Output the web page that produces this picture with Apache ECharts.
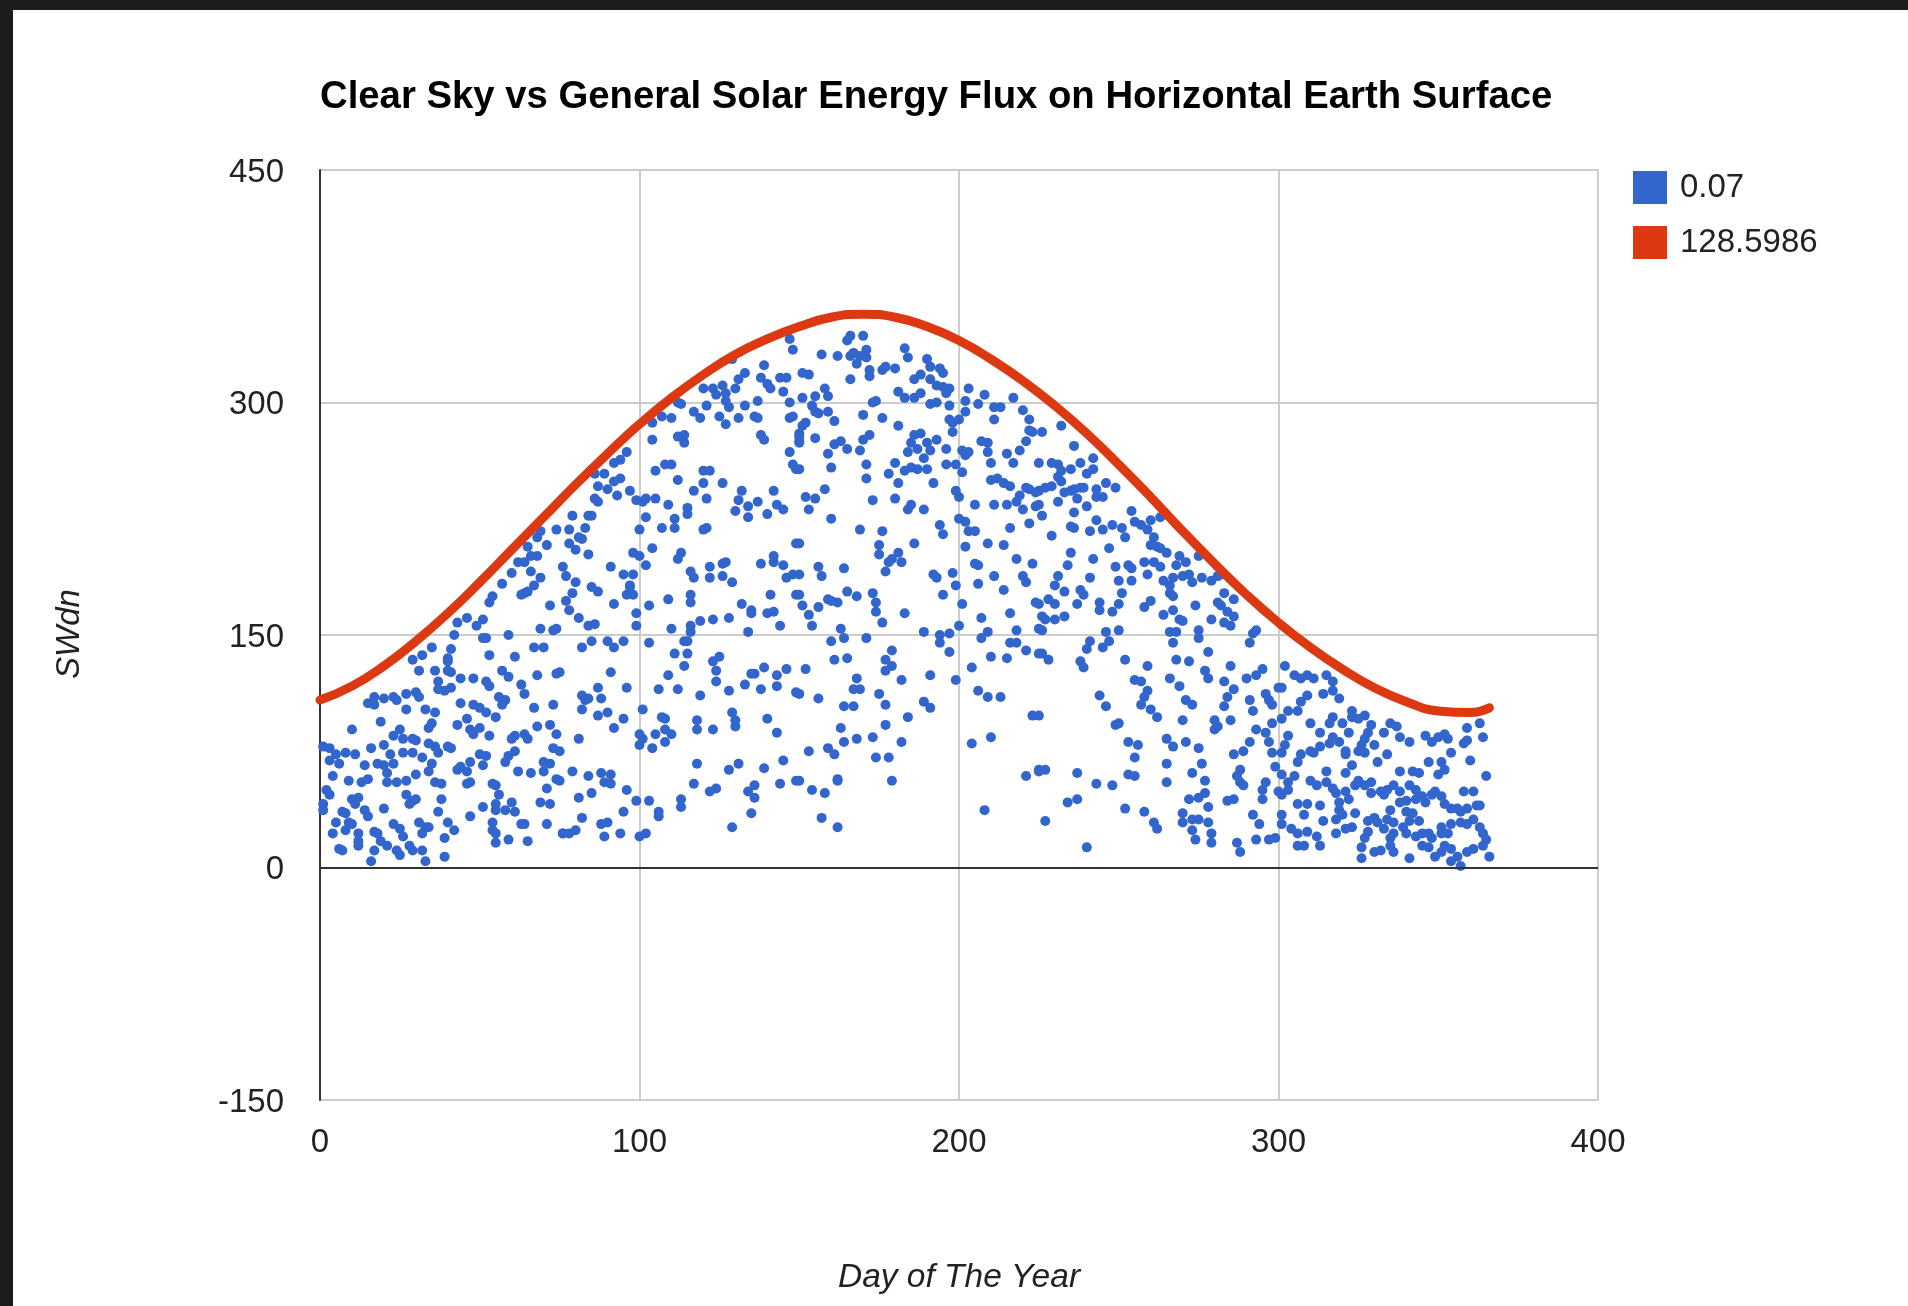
<!DOCTYPE html>
<html>
<head>
<meta charset="utf-8">
<title>Clear Sky vs General Solar Energy Flux</title>
<script src="https://cdn.jsdelivr.net/npm/echarts@6/dist/echarts.min.js"></script>
<style>
  html, body { margin: 0; padding: 0; background: #1c1c1e; }
  #chart { position: absolute; left: 13px; top: 10px; width: 1895px; height: 1296px; background: #fff; }
</style>
</head>
<body>
<div id="chart"></div>
<script>
var FONT = '"Liberation Sans", Arial, Helvetica, sans-serif';

// axis ticks
var xTicks = [0, 100, 200, 300, 400];
var yTicks = [-150, 0, 150, 300, 450];

// clear sky curve (red)
var clearDay  = [0, 10, 20, 30, 40, 50, 60, 70, 80, 90, 100, 110, 120, 130, 140, 150, 160, 170, 180, 190, 200, 210, 220, 230, 240, 250, 260, 270, 280, 290, 300, 310, 320, 330, 340, 350, 360, 366];
var clearFlux = [108, 117, 130, 146, 164, 184, 205, 226, 247, 267, 286, 303, 318, 331, 341, 349, 355, 357, 355, 349, 340, 328, 314, 298, 280, 260, 239, 217, 196, 176, 158, 142, 128, 116, 107, 101, 100, 103];

// measured SWdn points (blue), [day, value]
var swdnPoints = [
[74,218],[69,217],[68,213],[71,208],[65,207],[66,201],[68,201],[62,197],[64,197],[60,190],[66,191],[69,187],[57,183],[67,182],[65,178],[63,176],[64,177],[72,169],[54,175],[53,171],[69,154],[73,153],[74,154],[43,158],[46,161],[49,156],[51,160],[51,148],[52,148],[59,150],[42,150],[67,142],[70,142],[35,142],[32,137],[29,134],[41,141],[40,135],[40,133],[53,137],[61,136],[31,127],[36,127],[40,127],[41,126],[37,120],[37,115],[39,114],[41,116],[44,122],[48,122],[52,120],[53,117],[57,127],[59,123],[63,118],[64,112],[68,124],[74,125],[15,106],[17,110],[20,109],[17,105],[23,110],[24,108],[27,112],[30,113],[31,110],[27,102],[33,102],[36,100],[44,106],[48,105],[50,103],[52,100],[56,110],[57,105],[58,108],[55,97],[67,103],[73,105],[10,89],[19,94],[35,93],[34,90],[43,92],[46,96],[47,89],[48,86],[50,90],[53,85],[60,83],[61,85],[64,86],[65,83],[68,91],[72,92],[74,86],[1,78],[3,77],[5,73],[8,74],[11,73],[16,77],[20,79],[23,85],[25,89],[26,83],[29,83],[30,82],[34,80],[36,78],[37,74],[40,78],[41,77],[22,73],[26,74],[29,74],[32,71],[3,69],[6,67],[14,66],[18,67],[20,66],[23,67],[35,67],[34,62],[43,63],[44,65],[46,62],[47,68],[50,73],[52,72],[51,66],[59,72],[58,68],[61,75],[62,62],[66,61],[70,68],[72,67],[70,62],[73,77],[74,57],[4,59],[9,56],[13,55],[15,57],[21,61],[21,55],[24,55],[27,56],[30,60],[36,55],[38,54],[46,54],[47,55],[54,54],[55,53],[71,51],[2,50],[3,47],[10,44],[12,45],[11,41],[1,41],[1,37],[27,47],[29,43],[30,44],[28,41],[38,44],[56,47],[55,41],[58,37],[60,42],[61,36],[63,28],[69,42],[72,41],[7,36],[8,35],[14,37],[15,33],[20,38],[37,36],[51,39],[55,37],[5,29],[4,22],[9,29],[10,28],[8,24],[12,22],[12,17],[12,14],[17,23],[18,22],[19,17],[21,14],[23,28],[25,25],[26,20],[31,29],[33,26],[34,26],[32,22],[39,19],[40,29],[42,24],[54,29],[54,24],[55,22],[55,16],[59,18],[64,28],[65,17],[71,28],[76,22],[6,12],[7,11],[17,11],[24,11],[25,8],[28,14],[29,11],[32,11],[39,7],[47,33],[16,4],[33,4],
[147,341],[148,334],[139,324],[129,328],[133,319],[131,315],[130,309],[138,316],[140,312],[141,309],[144,316],[146,316],[145,307],[147,300],[148,291],[147,290],[150,280],[150,275],[147,268],[148,260],[149,257],[137,301],[136,291],[137,290],[138,279],[139,276],[133,298],[131,290],[128,297],[127,286],[125,291],[120,309],[123,309],[124,305],[126,311],[127,306],[127,301],[121,298],[117,294],[119,290],[112,300],[113,299],[110,290],[107,291],[104,287],[104,276],[112,278],[114,279],[114,274],[96,268],[94,263],[92,261],[89,254],[86,254],[87,246],[90,244],[92,249],[94,251],[93,240],[86,238],[87,236],[97,243],[99,237],[101,236],[102,238],[105,238],[109,234],[105,256],[108,260],[110,260],[112,250],[117,243],[120,248],[121,238],[120,256],[122,256],[126,248],[132,243],[131,237],[134,233],[137,236],[130,230],[134,226],[142,243],[143,234],[145,231],[140,228],[115,232],[115,228],[111,225],[111,219],[107,219],[102,226],[100,218],[104,206],[120,218],[121,219],[149,209],[79,227],[78,218],[83,219],[84,227],[85,227],[81,213],[82,212],[80,205],[84,202],[78,209],[76,194],[77,188],[80,184],[91,194],[95,189],[98,189],[98,203],[100,201],[102,195],[97,181],[97,182],[96,176],[98,176],[85,181],[87,178],[79,177],[77,172],[78,166],[81,161],[92,170],[99,164],[99,156],[84,156],[86,157],[103,169],[109,173],[113,203],[112,199],[116,191],[117,187],[122,194],[122,187],[126,196],[127,197],[126,188],[129,184],[116,176],[116,171],[119,159],[116,156],[116,152],[123,160],[128,161],[132,170],[135,166],[135,164],[140,164],[142,165],[144,156],[138,196],[142,201],[142,197],[145,195],[146,187],[148,189],[141,176],[149,176],[134,152],[110,154],[115,146],[114,146],[82,142],[85,146],[90,146],[92,142],[95,146],[103,145],[75,126],[82,111],[84,109],[83,108],[87,116],[88,109],[91,126],[96,116],[82,102],[87,98],[90,100],[92,90],[95,96],[81,83],[101,102],[107,97],[108,96],[108,89],[105,86],[100,86],[101,83],[100,79],[104,77],[108,81],[110,86],[106,115],[112,115],[109,124],[111,138],[114,130],[115,138],[119,111],[123,133],[125,136],[124,127],[124,120],[128,114],[133,118],[135,125],[136,125],[139,129],[138,115],[143,124],[143,117],[146,128],[149,113],[118,95],[118,89],[123,89],[129,100],[130,95],[130,91],[140,96],[143,87],[75,75],[79,62],[75,56],[84,59],[88,61],[91,60],[89,55],[91,54],[85,48],[81,45],[96,50],[99,43],[103,43],[106,36],[106,33],[95,36],[113,44],[113,39],[117,54],[118,67],[122,49],[124,51],[128,63],[131,67],[134,49],[136,53],[136,45],[139,64],[145,69],[144,54],[149,56],[135,35],[129,26],[76,22],[78,22],[80,24],[82,32],[88,28],[90,29],[89,20],[94,22],[100,20],[102,22],
[166,343],[170,343],[165,340],[167,332],[171,334],[166,330],[169,330],[171,329],[168,325],[157,331],[162,330],[151,319],[153,318],[166,315],[172,321],[172,317],[176,321],[177,323],[180,322],[183,335],[184,329],[190,328],[191,323],[194,322],[195,319],[188,318],[186,315],[181,307],[183,303],[186,303],[188,306],[191,315],[193,311],[195,310],[197,309],[196,306],[197,298],[191,299],[193,300],[203,309],[208,305],[202,301],[206,299],[202,294],[200,289],[198,287],[197,289],[198,281],[211,297],[213,297],[211,289],[217,303],[220,295],[222,289],[223,281],[173,300],[174,301],[170,292],[176,290],[181,285],[158,309],[155,304],[159,304],[151,303],[154,298],[155,294],[159,294],[156,293],[152,287],[151,285],[161,288],[150,278],[155,277],[150,274],[161,273],[163,275],[165,270],[169,269],[170,276],[172,279],[159,267],[160,258],[150,257],[186,279],[188,280],[185,274],[184,268],[187,270],[190,274],[189,264],[191,269],[193,276],[196,270],[196,260],[199,260],[180,261],[183,256],[185,258],[187,257],[190,257],[178,254],[181,248],[192,248],[171,260],[171,251],[158,244],[152,239],[155,238],[153,231],[160,225],[173,237],[180,238],[185,234],[184,231],[189,231],[169,218],[176,217],[175,208],[175,202],[181,203],[178,197],[179,199],[182,197],[177,191],[186,209],[194,221],[195,215],[201,269],[202,266],[203,268],[201,255],[199,243],[200,239],[200,225],[202,223],[203,217],[205,217],[202,207],[205,196],[206,195],[205,234],[207,275],[209,274],[209,268],[210,261],[210,250],[212,251],[214,248],[216,246],[215,267],[217,261],[219,269],[221,275],[222,282],[215,234],[218,236],[219,240],[221,245],[222,244],[224,242],[224,233],[220,231],[222,222],[211,234],[209,209],[214,208],[216,219],[218,199],[220,188],[221,184],[223,196],[224,171],[211,188],[206,183],[214,179],[216,164],[207,161],[209,152],[207,148],[218,153],[218,145],[216,145],[221,140],[225,138],[210,136],[215,135],[204,129],[206,114],[209,110],[213,110],[223,98],[204,80],[210,84],[221,59],[225,62],[208,37],[192,189],[193,187],[195,176],[198,190],[199,182],[201,170],[200,156],[197,151],[194,150],[194,145],[197,139],[189,152],[191,124],[189,107],[191,103],[199,121],[182,121],[184,97],[179,140],[177,134],[179,130],[177,127],[168,122],[167,115],[169,115],[164,104],[167,104],[175,112],[177,105],[177,92],[163,90],[164,81],[168,83],[173,84],[182,81],[174,71],[178,71],[159,77],[161,73],[153,75],[162,57],[162,56],[154,50],[158,48],[179,56],[157,32],[162,26],[163,154],[164,148],[160,146],[171,148],[161,134],[165,135],[152,128],[150,112],[156,109],[165,178],[168,175],[173,177],[174,171],[174,165],[176,158],[183,164],[162,171],[159,173],[156,168],[153,163],[154,156],[150,176],[151,169],[156,194],[157,188],[164,193],[160,172],[150,189],[150,209],[150,56],
[232,285],[226,281],[236,272],[225,261],[229,261],[231,260],[232,256],[235,257],[238,261],[242,264],[242,257],[240,254],[231,252],[232,249],[229,246],[227,245],[225,243],[233,242],[235,243],[236,244],[238,245],[239,245],[243,244],[237,238],[243,239],[245,239],[246,248],[249,245],[225,234],[231,236],[240,233],[226,227],[236,229],[243,224],[241,217],[245,218],[248,221],[251,219],[252,213],[235,220],[236,219],[229,214],[254,230],[255,223],[257,221],[260,224],[263,226],[259,218],[261,213],[260,208],[262,207],[263,206],[265,203],[247,206],[242,199],[235,203],[234,195],[249,194],[253,195],[254,193],[250,185],[254,185],[258,197],[261,197],[263,194],[264,185],[268,195],[269,201],[271,197],[267,187],[270,188],[272,189],[273,184],[275,201],[276,187],[279,185],[281,188],[282,189],[283,177],[286,173],[259,189],[241,187],[231,188],[230,182],[233,178],[238,179],[239,176],[237,170],[228,173],[230,170],[225,170],[226,162],[227,160],[230,160],[233,162],[225,154],[244,171],[244,166],[248,165],[250,170],[251,177],[258,168],[260,172],[264,163],[267,166],[266,177],[267,175],[266,182],[269,160],[270,159],[274,169],[279,160],[281,171],[282,169],[284,165],[283,158],[285,156],[286,162],[293,153],[292,151],[291,145],[275,153],[275,148],[267,145],[266,152],[268,152],[250,153],[246,152],[247,146],[245,142],[241,146],[240,141],[226,153],[226,138],[228,134],[238,133],[239,129],[252,134],[259,130],[268,134],[272,133],[278,139],[255,121],[257,120],[259,114],[258,110],[257,105],[260,102],[262,97],[266,122],[269,117],[271,108],[273,105],[277,127],[278,122],[283,120],[285,130],[286,115],[284,110],[283,104],[280,95],[281,91],[280,89],[285,95],[290,122],[293,124],[295,128],[296,112],[297,108],[298,105],[291,108],[292,101],[293,89],[296,87],[298,93],[297,81],[298,74],[300,116],[299,65],[300,49],[296,55],[295,50],[295,44],[291,81],[289,75],[288,63],[287,59],[288,55],[289,53],[286,73],[276,67],[275,77],[273,61],[277,56],[277,48],[275,45],[278,39],[272,44],[270,35],[270,29],[273,31],[275,31],[273,24],[274,18],[278,29],[279,22],[279,16],[287,16],[288,10],[292,34],[294,28],[293,18],[297,18],[299,19],[284,43],[286,44],[265,83],[267,78],[271,81],[270,95],[265,67],[265,55],[261,29],[262,25],[258,36],[252,38],[253,60],[255,59],[255,71],[253,81],[256,79],[249,92],[250,93],[244,111],[246,104],[243,54],[248,53],[237,61],[234,42],[237,44],[227,63],[225,63],[227,30],[240,13],[225,98],
[302,130],[305,124],[307,122],[309,124],[311,122],[315,124],[317,120],[301,116],[309,111],[314,112],[317,114],[319,109],[307,107],[306,101],[303,101],[301,96],[310,93],[313,87],[316,93],[317,97],[320,93],[317,84],[316,80],[319,81],[322,87],[323,101],[323,97],[325,96],[327,98],[329,92],[328,87],[327,83],[326,79],[325,75],[327,74],[330,79],[331,68],[333,87],[335,93],[337,91],[338,84],[341,81],[303,85],[302,79],[301,74],[310,75],[311,74],[307,73],[306,68],[313,78],[321,75],[321,73],[321,61],[315,62],[323,66],[334,73],[338,62],[342,62],[344,61],[346,85],[348,81],[350,84],[352,86],[353,83],[354,74],[347,68],[351,68],[352,63],[350,60],[358,80],[359,90],[360,69],[363,93],[364,84],[359,82],[365,59],[358,49],[361,49],[310,56],[312,53],[315,55],[317,51],[318,48],[319,42],[319,37],[320,34],[321,49],[324,53],[325,56],[327,53],[329,55],[322,44],[324,35],[329,48],[332,49],[333,47],[334,50],[336,53],[338,49],[341,53],[343,50],[343,44],[340,43],[338,42],[335,37],[340,36],[342,35],[345,46],[346,42],[348,47],[349,49],[351,46],[352,41],[354,38],[356,38],[357,36],[359,38],[362,40],[363,40],[301,47],[303,50],[301,60],[303,55],[305,59],[306,41],[309,41],[308,34],[313,40],[301,34],[301,28],[304,25],[306,22],[309,23],[312,20],[313,14],[308,14],[306,14],[314,30],[318,31],[321,25],[328,30],[330,32],[331,29],[334,31],[336,29],[333,25],[336,22],[339,26],[340,22],[341,30],[344,30],[343,20],[345,22],[347,22],[348,19],[345,14],[347,13],[349,7],[351,10],[352,14],[354,12],[354,4],[356,7],[357,1],[354,28],[357,29],[359,28],[361,31],[363,26],[364,22],[365,18],[364,14],[366,7],[361,12],[359,10],[326,13],[330,10],[332,11],[335,14],[336,10],[341,6],[326,6],[328,23],[327,19],[323,26],[318,22],[335,19],[351,26],[351,22],[353,22]
];

var chart = echarts.init(document.getElementById('chart'));

var clearLine = [];
for (var i = 0; i < clearDay.length; i++) {
    clearLine.push([clearDay[i], clearFlux[i]]);
}

var option = {
    animation: false,
    backgroundColor: '#ffffff',
    textStyle: { fontFamily: FONT },
    title: {
        text: 'Clear Sky vs General Solar Energy Flux on Horizontal Earth Surface',
        left: 307,
        top: 68,
        padding: 0,
        textStyle: { fontSize: 38.3, fontWeight: 'bold', color: '#000', fontFamily: FONT }
    },
    legend: {
        orient: 'vertical',
        left: 1620,
        top: 161,
        padding: 0,
        icon: 'rect',
        itemWidth: 34,
        itemHeight: 33,
        itemGap: 22,
        selectedMode: false,
        textStyle: { fontSize: 33, color: '#222', fontFamily: FONT, padding: [0, 0, 0, 8] },
        data: ['0.07', '128.5986']
    },
    grid: { left: 307, top: 160, width: 1278, height: 930, containLabel: false },
    xAxis: {
        type: 'value',
        min: xTicks[0],
        max: xTicks[xTicks.length - 1],
        interval: 100,
        axisLine: { show: false },
        axisTick: { show: false },
        axisLabel: { fontSize: 33, color: '#222', margin: 26, fontFamily: FONT },
        splitLine: { show: true, lineStyle: { color: '#cccccc', width: 2 } }
    },
    yAxis: {
        type: 'value',
        min: yTicks[0],
        max: yTicks[yTicks.length - 1],
        interval: 150,
        axisLine: { show: true, lineStyle: { color: '#333', width: 2 } },
        axisTick: { show: false },
        axisLabel: {
            margin: 36,
            formatter: function (v) { return '{t|' + v + '}'; },
            rich: { t: { fontSize: 33, color: '#222', fontFamily: FONT, padding: [5, 0, 0, 0] } }
        },
        splitLine: { show: true, lineStyle: { color: '#cccccc', width: 2 } }
    },
    graphic: [
        {
            type: 'text', x: 946, y: 1268,
            style: { text: 'Day of The Year', fontSize: 33.5, fontStyle: 'italic', fontFamily: FONT,
                     fill: '#222', align: 'center', verticalAlign: 'middle' }
        },
        {
            type: 'text', x: 57, y: 624, rotation: Math.PI / 2,
            style: { text: 'SWdn', fontSize: 33, fontStyle: 'italic', fontFamily: FONT,
                     fill: '#222', align: 'center', verticalAlign: 'middle' }
        }
    ],
    series: [
        {
            name: '0.07',
            type: 'scatter',
            symbol: 'circle',
            symbolSize: 10,
            itemStyle: { color: '#3366cc', opacity: 1 },
            data: swdnPoints,
            markLine: {
                silent: true,
                symbol: 'none',
                label: { show: false },
                lineStyle: { color: '#333', width: 2, type: 'solid' },
                data: [{ yAxis: 0 }]
            },
            z: 2
        },
        {
            name: '128.5986',
            type: 'line',
            smooth: true,
            showSymbol: false,
            symbol: 'none',
            itemStyle: { color: '#dc3912' },
            lineStyle: { color: '#dc3912', width: 9, cap: 'round' },
            data: clearLine,
            z: 3
        }
    ]
};

chart.setOption(option);
</script>
</body>
</html>
